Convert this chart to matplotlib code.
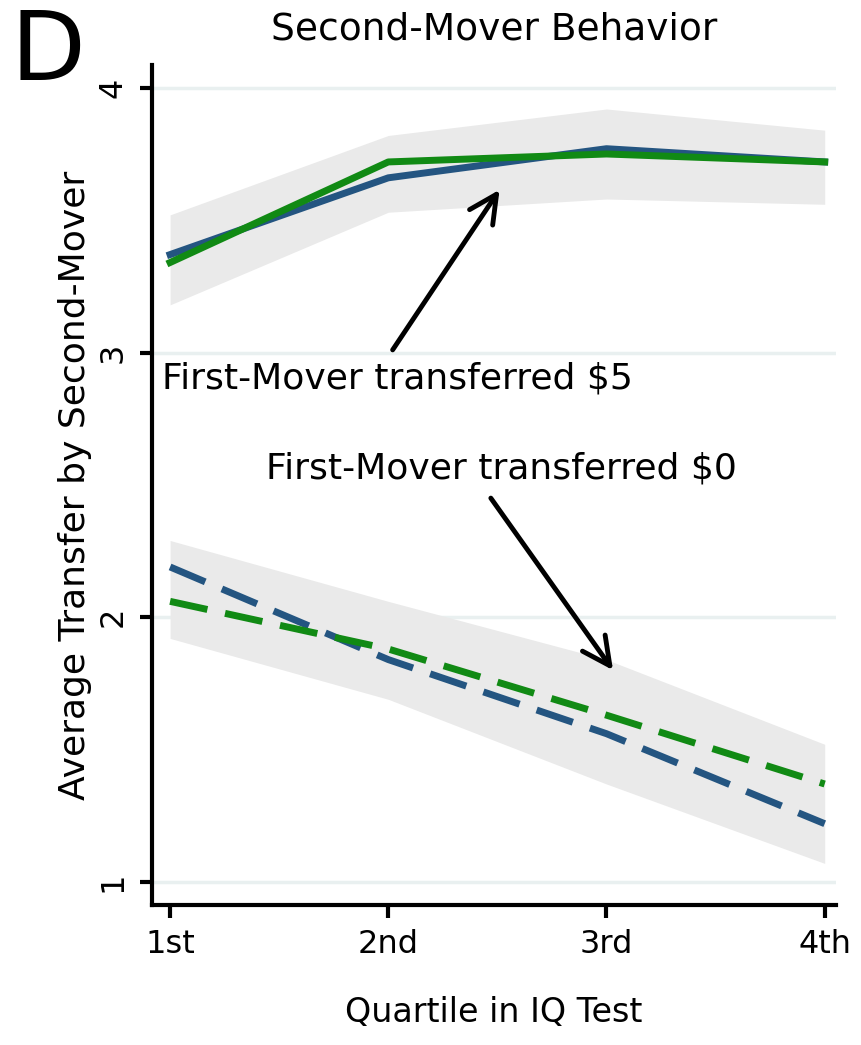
import numpy as np
import matplotlib.pyplot as plt

quartiles = [1, 2, 3, 4]
quartile_labels = ["1st", "2nd", "3rd", "4th"]

# second-mover transfer when first mover sent $5
sent5_blue = [3.37, 3.66, 3.77, 3.72]
sent5_green = [3.34, 3.72, 3.75, 3.72]
sent5_lo = [3.18, 3.53, 3.58, 3.56]
sent5_hi = [3.52, 3.82, 3.92, 3.84]

# second-mover transfer when first mover sent $0
sent0_blue = [2.19, 1.84, 1.56, 1.22]
sent0_green = [2.06, 1.88, 1.63, 1.37]
sent0_lo = [1.92, 1.69, 1.37, 1.07]
sent0_hi = [2.29, 2.06, 1.84, 1.52]

blue = "#245581"
green = "#118a14"
dash = (0, (5.5, 2.6))

fig = plt.figure(figsize=(8.61, 10.45), dpi=100)
ax = fig.add_axes([0.1765, 0.134, 0.794, 0.804])

for y in [1, 2, 3, 4]:
    ax.axhline(y, color="#e9f0f0", lw=2.5, zorder=0)

ax.fill_between(quartiles, sent5_lo, sent5_hi, color="#eaeaea", lw=0, zorder=1)
ax.fill_between(quartiles, sent0_lo, sent0_hi, color="#eaeaea", lw=0, zorder=1)

ax.plot(quartiles, sent5_blue, color=blue, lw=5, zorder=3)
ax.plot(quartiles, sent5_green, color=green, lw=5, zorder=4)
ax.plot(quartiles, sent0_blue, color=blue, lw=5, ls=dash, zorder=3)
ax.plot(quartiles, sent0_green, color=green, lw=5, ls=dash, zorder=4)

ax.set_xlim(0.917, 4.05)
ax.set_ylim(0.913, 4.087)
ax.set_xticks(quartiles)
ax.set_xticklabels(quartile_labels)
ax.set_yticks([1, 2, 3, 4])
ax.set_yticklabels(["1", "2", "3", "4"], rotation=90, va="center")

for s in ["top", "right"]:
    ax.spines[s].set_visible(False)
for s in ["left", "bottom"]:
    ax.spines[s].set_linewidth(3)
ax.tick_params(axis="both", length=9, width=3, labelsize=23, pad=8)

ax.set_xlabel("Quartile in IQ Test", fontsize=24, labelpad=26)
ax.set_ylabel("Average Transfer by Second-Mover", fontsize=26, labelpad=4)
ax.set_title("Second-Mover Behavior", fontsize=27, pad=18)

arrow = dict(arrowstyle="->,head_length=1.0,head_width=0.5", color="black",
             lw=3.5, shrinkA=0, shrinkB=0, mutation_scale=20)
ax.annotate("", xy=(2.51, 3.615), xytext=(2.02, 3.01), arrowprops=arrow)
ax.annotate("", xy=(3.03, 1.80), xytext=(2.47, 2.45), arrowprops=arrow)
ax.text(2.04, 2.90, "First-Mover transferred $5", fontsize=26,
        ha="center", va="center")
ax.text(2.52, 2.56, "First-Mover transferred $0", fontsize=26,
        ha="center", va="center")

fig.text(0.012, 0.993, "D", fontsize=70, va="top", ha="left")

fig.savefig("out.png", dpi=100)
